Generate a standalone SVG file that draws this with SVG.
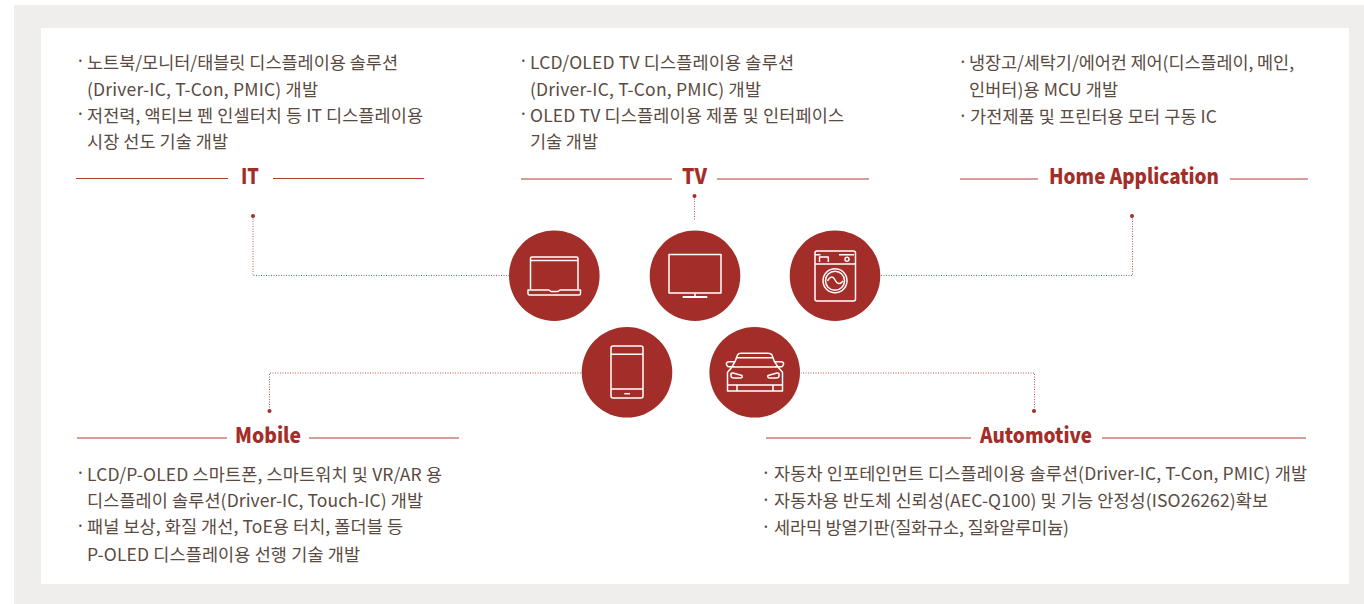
<svg xmlns="http://www.w3.org/2000/svg" width="1364" height="604" viewBox="0 0 1364 604">
<style>
.t{font-family:"Noto Sans CJK KR","Noto Sans",sans-serif;font-size:17.5px;fill:#5a4a3f}
.b{font-family:"Noto Sans CJK KR","Noto Sans",sans-serif;font-size:17.5px;fill:#5a4a3f}
.h{font-family:"Noto Sans CJK KR","Noto Sans",sans-serif;font-size:21px;font-weight:900;fill:#a32d28}
.r{stroke:#b23a35;stroke-width:1;fill:none}
.d{stroke:#a32d28;stroke-width:1;stroke-dasharray:1 1.500;fill:none;opacity:.8}
.c{fill:#a32d28}
.i{fill:none;stroke:#fff;stroke-width:1.500;stroke-linejoin:round}
</style>
<rect x="14" y="5" width="1350" height="599" fill="#efeeec"/>
<rect x="41" y="28" width="1308" height="556" fill="#fff"/>
<g id="connectors">
<path class="d" d="M253 216V275.500H509"/>
<path class="d" d="M694.500 196V221"/>
<path class="d" d="M1132.500 216V275.500H881"/>
<path class="d" d="M269.500 410V373H582"/>
<path class="d" d="M1034.500 410V373H801"/>
<circle class="c" cx="253" cy="216" r="2"/>
<circle class="c" cx="694.500" cy="196" r="2"/>
<circle class="c" cx="1132" cy="216" r="2"/>
<circle class="c" cx="269.500" cy="411" r="2"/>
<circle class="c" cx="1034" cy="411" r="2"/>
</g>
<g id="it">
<text class="b" x="75.500" y="67">·</text><text class="t" x="87" y="68.500" textLength="311">노트북/모니터/태블릿 디스플레이용 솔루션</text>
<text class="t" x="87" y="95.500" textLength="231">(Driver-IC, T-Con, PMIC) 개발</text>
<text class="b" x="75.500" y="120">·</text><text class="t" x="87" y="121.500" textLength="336">저전력, 액티브 펜 인셀터치 등 IT 디스플레이용</text>
<text class="t" x="87" y="148" textLength="141">시장 선도 기술 개발</text>
<path class="r" d="M76 178.500H228M273 178.500H424"/>
<text class="h" x="241" y="184" textLength="18" lengthAdjust="spacingAndGlyphs">IT</text>
</g>
<g id="tv">
<text class="b" x="518.500" y="67">·</text><text class="t" x="530" y="68.500" textLength="264">LCD/OLED TV 디스플레이용 솔루션</text>
<text class="t" x="530" y="95.500" textLength="231">(Driver-IC, T-Con, PMIC) 개발</text>
<text class="b" x="518.500" y="120">·</text><text class="t" x="530" y="121.500" textLength="314">OLED TV 디스플레이용 제품 및 인터페이스</text>
<text class="t" x="530" y="148" textLength="68">기술 개발</text>
<path class="r" d="M521 179H672M717 179H869"/>
<text class="h" x="682" y="184" textLength="25" lengthAdjust="spacingAndGlyphs">TV</text>
</g>
<g id="home-application">
<text class="b" x="958" y="68">·</text><text class="t" x="969" y="69" textLength="325">냉장고/세탁기/에어컨 제어(디스플레이, 메인,</text>
<text class="t" x="969" y="96" textLength="149">인버터)용 MCU 개발</text>
<text class="b" x="958" y="122">·</text><text class="t" x="970" y="123" textLength="247">가전제품 및 프린터용 모터 구동 IC</text>
<path class="r" d="M960 179H1038M1230 179H1308"/>
<text class="h" x="1049" y="184" textLength="170" lengthAdjust="spacingAndGlyphs">Home Application</text>
</g>
<g id="mobile">
<path class="r" d="M77 438H227M309 438H459"/>
<text class="h" x="235" y="443" textLength="66" lengthAdjust="spacingAndGlyphs">Mobile</text>
<text class="b" x="75.500" y="479">·</text><text class="t" x="87" y="480.500" textLength="355">LCD/P-OLED 스마트폰, 스마트워치 및 VR/AR 용</text>
<text class="t" x="87" y="507" textLength="336">디스플레이 솔루션(Driver-IC, Touch-IC) 개발</text>
<text class="b" x="75.500" y="532">·</text><text class="t" x="87" y="533" textLength="316">패널 보상, 화질 개선, ToE용 터치, 폴더블 등</text>
<text class="t" x="87" y="560.500" textLength="273">P-OLED 디스플레이용 선행 기술 개발</text>
</g>
<g id="automotive">
<path class="r" d="M766 438H971M1102 438H1306"/>
<text class="h" x="980" y="443" textLength="112" lengthAdjust="spacingAndGlyphs">Automotive</text>
<text class="b" x="761" y="479">·</text><text class="t" x="774" y="480" textLength="533">자동차 인포테인먼트 디스플레이용 솔루션(Driver-IC, T-Con, PMIC) 개발</text>
<text class="b" x="761" y="506">·</text><text class="t" x="774" y="507" textLength="494">자동차용 반도체 신뢰성(AEC-Q100) 및 기능 안정성(ISO26262)확보</text>
<text class="b" x="761" y="533">·</text><text class="t" x="774" y="534" textLength="295">세라믹 방열기판(질화규소, 질화알루미늄)</text>
</g>
<g id="laptop">
<circle class="c" cx="554.300" cy="275.700" r="45.300"/>
<path class="i" d="M530.500 289V258.500Q530.500 257 532 257H576.500Q578 257 578 258.500V289M530.500 260.500H578M528 290H549L551 291.500H558L560 290H580.500V293.500Q580.500 295 579 295H529.500Q528 295 528 293.500Z"/>
</g>
<g id="tv-icon">
<circle class="c" cx="695" cy="275.700" r="45.300"/>
<path class="i" d="M669 254.500H721V293H669ZM695 293V297"/>
<path d="M682.700 297H707.300" stroke="#fff" stroke-width="2"/>
</g>
<g id="washer">
<circle class="c" cx="835" cy="275.700" r="45.300"/>
<path class="i" d="M815 253Q815 251 817 251H853.500Q855.500 251 855.500 253V299Q855.500 301 853.500 301H817Q815 301 815 299ZM815 264H855.500M819.500 262V257H828.300V262M815 254.700H820.500M839 254.700H854"/>
<circle class="i" cx="847" cy="259.300" r="2"/>
<circle class="i" cx="835" cy="280.700" r="12"/>
<circle class="i" cx="835" cy="280.700" r="9.500"/>
<path class="i" d="M827.500 281C830 276 833 276 835 280S840 285 843 281"/>
</g>
<g id="phone">
<circle class="c" cx="627" cy="372.300" r="45.300"/>
<path class="i" d="M611 348Q611 346 613 346H641Q643 346 643 348V396Q643 398 641 398H613Q611 398 611 396ZM611 354.300H643M611 389H643"/>
<path d="M624.300 393.700H630" stroke="#fff" stroke-width="1.500"/>
</g>
<g id="car">
<circle class="c" cx="754.700" cy="372.300" r="45.300"/>
<path class="i" d="M727.500 391V372.300L731 368.300L735 361.700L737.500 355Q738.500 353.300 741 353.300H768Q771 353.300 772 355L774.500 361.700L779 368.300L782.500 372.300V391ZM737 357.700H772.500M731 367H779M735 366.700H728Q726 365 726.500 363Q727 361.700 729 361.700H735M774.500 361.700H781Q783 361.700 783.500 363Q784 365 782 366.700H775M731 374Q731 372.800 733 373L742 375.500Q743 378 740 378H734Q731 378 731 376ZM779 374Q779 372.800 777 373L768 375.500Q767 378 770 378H776Q779 378 779 376ZM727.500 385H782.500M737 385.500V391M773 385.500V391"/>
</g>
</svg>
